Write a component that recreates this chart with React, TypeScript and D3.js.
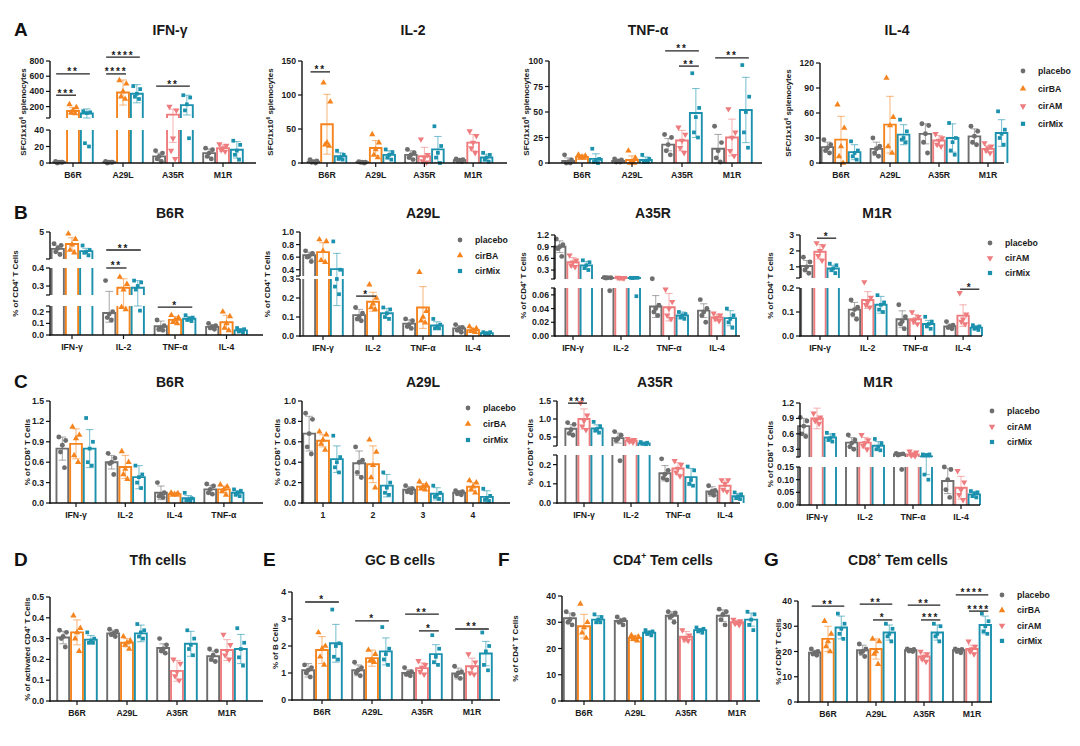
import React from "react";
import * as d3 from "d3";

// ---------------- categories ----------------
const antigens = ["B6R", "A29L", "A35R", "M1R"];
const cytokines = ["IFN-γ", "IL-2", "TNF-α", "IL-4"];
const cytokinesC1 = ["IFN-γ", "IL-2", "IL-4", "TNF-α"];
const peptidePools = ["1", "2", "3", "4"];
const groupsBA = ["placebo", "cirBA", "cirMix"];
const groupsAM = ["placebo", "cirAM", "cirMix"];
const groupsAll = ["placebo", "cirBA", "cirAM", "cirMix"];
const antigenSeries = [groupsBA, groupsBA, groupsAM, groupsAM];

// ---------------- A: ELISpot (SFC / 1x10^6 splenocytes) ----------------
const aIfnMean = [[1, 142, 110], [1, 385, 370], [8, 95, 220], [12, 18, 16]];
const aIfnSd = [[1, 45, 60], [1, 165, 120], [4, 70, 130], [5, 4, 10]];
const aIfnPts = [
  [[2, 1, 1, 0, 1], [230, 190, 150, 120, 110], [140, 125, 115, 24, 20]],
  [[2, 1, 1, 0, 1], [545, 500, 400, 330, 300], [470, 430, 370, 330, 300]],
  [[15, 12, 8, 5, 2], [200, 150, 30, 15, 5], [350, 320, 230, 150, 30]],
  [[18, 16, 12, 8, 5], [23, 21, 18, 16, 14], [27, 22, 15, 10, 4]],
];
const aIfnSig = [[0, 0, 1, "***", 350], [0, 0, 2, "**", 630], [1, 0, 1, "****", 630], [1, 0, 2, "****", 852], [2, 0, 2, "**", 470]];

const aIl2Mean = [[2, 57, 10], [1, 22, 12], [12, 10, 20], [4, 30, 8]];
const aIl2Sd = [[2, 44, 5], [1, 11, 6], [6, 13, 19], [2, 12, 5]];
const aIl2Pts = [
  [[5, 3, 2, 1, 0], [118, 90, 30, 27, 25], [18, 12, 8, 6, 5]],
  [[2, 1, 1, 1, 0], [42, 30, 20, 12, 8], [20, 16, 12, 8, 5]],
  [[20, 15, 12, 8, 5], [35, 12, 8, 3, 1], [54, 25, 15, 8, 0]],
  [[6, 5, 4, 3, 2], [47, 40, 30, 22, 15], [15, 12, 8, 5, 2]],
];
const aIl2Sig = [[0, 0, 1, "**", 134]];

const aTnfMean = [[2, 6, 4], [2, 3, 3], [18, 22, 49], [14, 25, 52]];
const aTnfSd = [[3, 2, 5], [1, 4, 3], [6, 10, 24], [14, 18, 32]];
const aTnfPts = [
  [[8, 3, 1, 0, 0], [8, 7, 6, 5, 5], [14, 4, 2, 1, 0]],
  [[4, 3, 2, 1, 1], [12, 5, 1, 0, 0], [8, 4, 2, 1, 1]],
  [[28, 25, 18, 12, 8], [35, 28, 22, 15, 10], [88, 54, 45, 30, 25]],
  [[36, 20, 12, 5, 1], [53, 30, 25, 12, 7], [96, 65, 50, 30, 15]],
];
const aTnfSig = [[2, 0, 2, "**", 110], [2, 1, 2, "**", 95], [3, 0, 2, "**", 103]];

const aIl4Mean = [[19, 28, 13], [17, 46, 34], [35, 27, 30], [32, 17, 36]];
const aIl4Sd = [[6, 28, 9], [8, 34, 12], [12, 6, 17], [9, 4, 16]];
const aIl4Pts = [
  [[28, 22, 18, 15, 12], [70, 42, 20, 8, 0], [26, 15, 12, 8, 4]],
  [[30, 20, 17, 12, 8], [102, 55, 45, 20, 12], [52, 38, 30, 28, 25]],
  [[47, 45, 35, 25, 12], [35, 30, 27, 22, 20], [48, 30, 25, 15, 10]],
  [[44, 38, 32, 25, 22], [24, 20, 18, 15, 12], [62, 40, 35, 30, 22]],
];

// ---------------- B: % of CD4+ T cells ----------------
const b1Mean = [[4.06, 4.33, 3.94], [0.19, 0.29, 0.29], [0.075, 0.13, 0.14], [0.07, 0.11, 0.04]];
const b1Sd = [[0.2, 0.35, 0.15], [0.08, 0.05, 0.04], [0.045, 0.03, 0.02], [0.02, 0.06, 0.015]];
const b1Pts = [
  [[4.35, 4.25, 4.1, 3.9, 3.75], [4.9, 4.6, 4.3, 4.0, 3.85], [4.25, 4.0, 3.9, 3.85, 3.7]],
  [[0.33, 0.2, 0.18, 0.15, 0.13], [0.35, 0.31, 0.28, 0.24, 0.22], [0.33, 0.32, 0.3, 0.28, 0.21]],
  [[0.13, 0.08, 0.06, 0.05, 0.04], [0.17, 0.15, 0.13, 0.11, 0.1], [0.17, 0.15, 0.14, 0.13, 0.12]],
  [[0.1, 0.08, 0.07, 0.06, 0.05], [0.2, 0.16, 0.1, 0.06, 0.04], [0.06, 0.05, 0.04, 0.03, 0.02]],
];
const b1Sig = [[1, 0, 1, "**", 0.405], [1, 0, 2, "**", 4.0], [2, 0, 2, "*", 0.24]];

const b2Mean = [[0.63, 0.68, 0.41], [0.11, 0.18, 0.12], [0.065, 0.15, 0.055], [0.04, 0.03, 0.015]];
const b2Sd = [[0.05, 0.15, 0.25], [0.03, 0.05, 0.025], [0.02, 0.11, 0.02], [0.015, 0.01, 0.005]];
const b2Pts = [
  [[0.7, 0.66, 0.62, 0.6, 0.53], [0.88, 0.85, 0.7, 0.55, 0.52], [0.85, 0.4, 0.3, 0.26, 0.22]],
  [[0.15, 0.12, 0.1, 0.09, 0.08], [0.27, 0.2, 0.17, 0.15, 0.14], [0.15, 0.14, 0.12, 0.1, 0.09]],
  [[0.09, 0.08, 0.06, 0.05, 0.04], [0.36, 0.13, 0.1, 0.08, 0.07], [0.09, 0.06, 0.05, 0.04, 0.04]],
  [[0.06, 0.045, 0.04, 0.03, 0.02], [0.05, 0.04, 0.03, 0.025, 0.02], [0.02, 0.02, 0.015, 0.01, 0.01]],
];
const b2Sig = [[1, 0, 1, "*", 0.21]];

const b3Mean = [[0.9, 0.5, 0.42], [0.1, 0.1, 0.1], [0.043, 0.042, 0.03], [0.037, 0.027, 0.026]];
const b3Sd = [[0.15, 0.12, 0.1], [0.015, 0.005, 0.01], [0.016, 0.02, 0.005], [0.01, 0.005, 0.011]];
const b3Pts = [
  [[1.1, 0.95, 0.9, 0.85, 0.65], [0.68, 0.55, 0.5, 0.42, 0.38], [0.55, 0.5, 0.42, 0.35, 0.3]],
  [[0.11, 0.1, 0.1, 0.095, 0.066], [0.11, 0.1, 0.1, 0.1, 0.095], [0.1, 0.1, 0.1, 0.095, 0.058]],
  [[0.075, 0.045, 0.04, 0.035, 0.03], [0.068, 0.05, 0.04, 0.03, 0.025], [0.035, 0.032, 0.03, 0.027, 0.025]],
  [[0.053, 0.04, 0.035, 0.03, 0.02], [0.033, 0.03, 0.027, 0.025, 0.022], [0.04, 0.03, 0.025, 0.02, 0.012]],
];

const b4Mean = [[1.05, 1.95, 0.9], [0.11, 0.15, 0.13], [0.07, 0.07, 0.05], [0.04, 0.085, 0.035]];
const b4Sd = [[0.35, 0.45, 0.2], [0.03, 0.035, 0.035], [0.035, 0.02, 0.015], [0.01, 0.045, 0.008]];
const b4Pts = [
  [[1.6, 1.3, 1.0, 0.8, 0.6], [2.5, 2.3, 2.0, 1.7, 1.4], [1.2, 1.1, 0.9, 0.8, 0.6]],
  [[0.15, 0.12, 0.11, 0.09, 0.07], [0.26, 0.16, 0.14, 0.13, 0.12], [0.17, 0.14, 0.13, 0.11, 0.1]],
  [[0.13, 0.08, 0.06, 0.05, 0.03], [0.1, 0.08, 0.07, 0.06, 0.05], [0.08, 0.06, 0.05, 0.04, 0.03]],
  [[0.06, 0.045, 0.04, 0.035, 0.03], [0.18, 0.09, 0.07, 0.06, 0.05], [0.045, 0.04, 0.035, 0.03, 0.025]],
];
const b4Sig = [[0, 1, 2, "*", 2.8], [3, 1, 2, "*", 0.195]];

// ---------------- C: % of CD8+ T cells ----------------
const c1Mean = [[0.8, 0.87, 0.8], [0.6, 0.53, 0.38], [0.15, 0.13, 0.07], [0.2, 0.2, 0.15]];
const c1Sd = [[0.17, 0.22, 0.28], [0.1, 0.17, 0.17], [0.1, 0.01, 0.04], [0.06, 0.05, 0.035]];
const c1Pts = [
  [[0.97, 0.92, 0.85, 0.75, 0.52], [1.12, 1.0, 0.95, 0.7, 0.6], [1.25, 0.9, 0.8, 0.6, 0.55]],
  [[0.73, 0.66, 0.6, 0.58, 0.42], [0.76, 0.6, 0.5, 0.42, 0.35], [0.55, 0.42, 0.38, 0.3, 0.22]],
  [[0.3, 0.15, 0.12, 0.1, 0.08], [0.15, 0.14, 0.13, 0.12, 0.12], [0.15, 0.07, 0.05, 0.04, 0.03]],
  [[0.28, 0.25, 0.2, 0.15, 0.13], [0.27, 0.24, 0.2, 0.17, 0.12], [0.2, 0.18, 0.15, 0.12, 0.1]],
];

const c2Mean = [[0.68, 0.61, 0.43], [0.39, 0.38, 0.17], [0.13, 0.16, 0.09], [0.1, 0.16, 0.06]];
const c2Sd = [[0.17, 0.06, 0.13], [0.12, 0.18, 0.11], [0.03, 0.03, 0.06], [0.02, 0.04, 0.06]];
const c2Pts = [
  [[0.88, 0.82, 0.68, 0.55, 0.48], [0.7, 0.67, 0.62, 0.58, 0.52], [0.66, 0.45, 0.4, 0.35, 0.3]],
  [[0.55, 0.42, 0.4, 0.3, 0.25], [0.62, 0.5, 0.37, 0.25, 0.15], [0.3, 0.2, 0.15, 0.1, 0.08]],
  [[0.17, 0.14, 0.13, 0.11, 0.1], [0.21, 0.18, 0.16, 0.14, 0.13], [0.17, 0.1, 0.08, 0.06, 0.04]],
  [[0.12, 0.11, 0.1, 0.09, 0.08], [0.22, 0.2, 0.16, 0.13, 0.1], [0.14, 0.07, 0.05, 0.03, 0.02]],
];

const c3Mean = [[0.73, 1.0, 0.74], [0.47, 0.4, 0.32], [0.155, 0.18, 0.135], [0.06, 0.09, 0.035]];
const c3Sd = [[0.12, 0.28, 0.1], [0.14, 0.04, 0.02], [0.04, 0.03, 0.045], [0.025, 0.025, 0.015]];
const c3Pts = [
  [[0.9, 0.85, 0.7, 0.6, 0.55], [1.45, 1.1, 0.95, 0.8, 0.7], [0.92, 0.8, 0.72, 0.68, 0.62]],
  [[0.65, 0.55, 0.45, 0.4, 0.22], [0.45, 0.42, 0.4, 0.38, 0.35], [0.36, 0.34, 0.32, 0.31, 0.3]],
  [[0.23, 0.17, 0.15, 0.13, 0.12], [0.22, 0.2, 0.18, 0.16, 0.14], [0.19, 0.17, 0.12, 0.1, 0.09]],
  [[0.09, 0.065, 0.06, 0.05, 0.04], [0.12, 0.12, 0.1, 0.07, 0.06], [0.055, 0.045, 0.035, 0.025, 0.02]],
];
const c3Sig = [[0, 0, 1, "***", 1.44]];

const c4Mean = [[0.75, 0.9, 0.53], [0.43, 0.43, 0.37], [0.2, 0.2, 0.16], [0.095, 0.068, 0.042]];
const c4Sd = [[0.15, 0.2, 0.07], [0.1, 0.1, 0.08], [0.02, 0.04, 0.04], [0.05, 0.045, 0.012]];
const c4Pts = [
  [[0.92, 0.85, 0.75, 0.6, 0.55], [1.0, 0.92, 0.88, 0.85, 0.8], [0.62, 0.58, 0.52, 0.48, 0.45]],
  [[0.58, 0.48, 0.42, 0.35, 0.3], [0.58, 0.48, 0.42, 0.37, 0.3], [0.5, 0.42, 0.35, 0.3, 0.28]],
  [[0.22, 0.21, 0.2, 0.19, 0.14], [0.26, 0.24, 0.2, 0.18, 0.17], [0.2, 0.2, 0.19, 0.12, 0.1]],
  [[0.15, 0.14, 0.1, 0.06, 0.03], [0.135, 0.09, 0.06, 0.04, 0.02], [0.055, 0.05, 0.045, 0.035, 0.03]],
];

// ---------------- D-G ----------------
const dMean = [[0.305, 0.33, 0.295], [0.325, 0.28, 0.325], [0.255, 0.145, 0.275], [0.215, 0.245, 0.25]];
const dSd = [[0.03, 0.06, 0.02], [0.015, 0.02, 0.04], [0.02, 0.05, 0.06], [0.025, 0.05, 0.07]];
const dPts = [
  [[0.34, 0.33, 0.31, 0.3, 0.26], [0.41, 0.35, 0.33, 0.3, 0.24], [0.33, 0.3, 0.29, 0.28, 0.28]],
  [[0.345, 0.335, 0.325, 0.32, 0.31], [0.31, 0.29, 0.28, 0.27, 0.25], [0.37, 0.34, 0.33, 0.31, 0.3]],
  [[0.3, 0.27, 0.25, 0.24, 0.23], [0.2, 0.18, 0.14, 0.12, 0.1], [0.34, 0.3, 0.27, 0.25, 0.22]],
  [[0.25, 0.24, 0.22, 0.2, 0.19], [0.32, 0.27, 0.24, 0.22, 0.2], [0.35, 0.28, 0.25, 0.21, 0.17]],
];

const eMean = [[1.1, 1.85, 2.1], [1.1, 1.55, 1.8], [1.0, 1.18, 1.7], [0.98, 1.25, 1.72]];
const eSd = [[0.25, 0.5, 0.7], [0.2, 0.3, 0.5], [0.12, 0.2, 0.35], [0.2, 0.3, 0.45]];
const ePts = [
  [[1.3, 1.2, 1.1, 1.0, 0.85], [2.5, 2.0, 1.9, 1.6, 1.3], [3.35, 2.1, 2.0, 1.6, 1.5]],
  [[1.4, 1.2, 1.1, 1.0, 0.9], [1.85, 1.7, 1.5, 1.45, 1.4], [2.7, 1.9, 1.7, 1.5, 1.3]],
  [[1.2, 1.05, 1.0, 0.95, 0.9], [1.45, 1.3, 1.2, 1.05, 0.95], [2.4, 1.9, 1.6, 1.4, 1.3]],
  [[1.25, 1.05, 1.0, 0.9, 0.8], [1.7, 1.4, 1.2, 1.0, 0.95], [2.5, 2.0, 1.8, 1.3, 1.1]],
];
const eSig = [[0, 0, 2, "*", 3.63], [1, 0, 2, "*", 2.93], [2, 0, 2, "**", 3.18], [2, 1, 2, "*", 2.56], [3, 0, 2, "**", 2.63]];

const fMean = [[31.5, 28.5, 31], [30.5, 24, 26], [32.5, 24.5, 27], [32.5, 30, 31]];
const fSd = [[2, 4.5, 1.5], [1, 1, 0.8], [1.5, 2, 0.6], [2.2, 0.8, 2.5]];
const fPts = [
  [[34, 33, 31, 30, 29], [37, 30, 28, 26, 24], [33, 32, 31, 30, 30]],
  [[32, 31, 30.5, 30, 29], [25, 24.5, 24, 23.5, 23], [27, 26.5, 26, 25.5, 25]],
  [[34, 33.5, 32.5, 32, 30], [27, 25, 24, 23.5, 23], [28, 27.5, 27, 26.5, 26]],
  [[35, 34, 33, 31, 29], [31, 30.5, 30, 29.5, 29], [34, 33, 31, 29, 27]],
];

const gMean = [[19.5, 25, 29.5], [20.5, 21, 27.5], [20.5, 18, 27.5], [20.5, 21, 30.5]];
const gSd = [[1, 5, 4.5], [2, 4, 3], [0.5, 1.5, 3], [0.5, 1.5, 3.5]];
const gPts = [
  [[21, 20, 19.5, 19, 18.5], [32, 27, 24, 22, 20], [35, 31, 29, 27, 25]],
  [[23, 21, 20, 19.5, 18], [25, 24, 20, 19, 15], [31, 29, 27, 26, 24]],
  [[21, 20.8, 20.5, 20.2, 20], [20, 19, 18, 17, 16], [31, 30, 27, 26, 24]],
  [[21, 20.8, 20.5, 20, 19.5], [24, 22, 21, 20, 19], [35, 32, 30, 28, 27]],
];
const gSig = [[0, 0, 2, "**", 38], [1, 0, 2, "**", 38.8], [1, 1, 2, "*", 32.5], [2, 0, 2, "**", 38.4], [2, 1, 2, "***", 32.5], [3, 0, 2, "****", 42.4], [3, 1, 2, "****", 36]];

// ---------------- styles ----------------
const FONT = "'Liberation Sans', Arial, Helvetica, sans-serif";
const seriesColor: Record<string, string> = {
  placebo: "#6e6e6e",
  cirBA: "#f5841f",
  cirAM: "#ee7b7d",
  cirMix: "#1b91ad",
};
const jitter = [-0.3, 0.28, 0.0, -0.16, 0.18];

type Part = [string, number];
type Seg = { domain: [number, number]; range: [number, number]; ticks: number[]; fmt: string };
type Cfg = {
  title: Part[]; titleX: number; titleY: number;
  letter?: string; letterX?: number;
  ylabel: Part[]; ylabelX: number;
  left: number; right: number; c0: number; step: number;
  segs: Seg[];
  groups: string[]; series: string[][];
  mean: number[][]; sd: number[][]; pts: number[][][];
  sig?: any[];
  legend?: { keys: string[]; x: number; y: number; dy: number };
};

function symbolPath(key: string, size: number) {
  const type = key === "placebo" ? d3.symbolCircle : key === "cirMix" ? d3.symbolSquare : d3.symbolTriangle;
  return d3.symbol().type(type).size(size)() as string;
}

function Marker({ k, x, y, size }: { k: string; x: number; y: number; size: number }) {
  const rot = k === "cirAM" ? 180 : 0;
  return <path d={symbolPath(k, size)} transform={`translate(${x},${y}) rotate(${rot})`} fill={seriesColor[k]} />;
}

function Rich({ parts, size }: { parts: Part[]; size: number }) {
  let prevSup = false;
  return (
    <>
      {parts.map(([t, s], i) => {
        let dy = 0;
        if (s && !prevSup) dy = -size * 0.42;
        if (!s && prevSup) dy = size * 0.42;
        prevSup = !!s;
        return (
          <tspan key={i} dy={dy} fontSize={s ? size * 0.62 : size}>
            {t}
          </tspan>
        );
      })}
    </>
  );
}

const SFC: Part[] = [["SFC/1x10", 0], ["6", 1], [" splenocytes", 0]];
const CD4: Part[] = [["% of CD4", 0], ["+", 1], [" T Cells", 0]];
const CD8: Part[] = [["% of CD8", 0], ["+", 1], [" T Cells", 0]];
const P = (s: string): Part[] => [[s, 0]];

function Panel({ p }: { p: Cfg }) {
  const segs = p.segs.map((s) => ({ ...s, sc: d3.scaleLinear().domain(s.domain).range(s.range) }));
  const broken = segs.length > 1;
  const y = (v: number): number => {
    for (let i = 0; i < segs.length; i++) {
      const s = segs[i];
      if (v <= s.domain[1] || i === segs.length - 1) {
        if (v >= s.domain[0] || i === 0) return s.sc(v);
        const prev = segs[i - 1];
        const t = (v - prev.domain[1]) / (s.domain[0] - prev.domain[1]);
        return prev.range[1] + t * (s.range[0] - prev.range[1]);
      }
    }
    return 0;
  };
  const gx = d3.scalePoint<string>().domain(p.groups).range([p.c0, p.c0 + p.step * (p.groups.length - 1)]);
  const k = p.step / 50;
  const inner = d3.scaleBand<number>().domain([0, 1, 2]).range([-19.8 * k, 19.8 * k]).paddingInner(0.14);
  const bw = inner.bandwidth();
  const base = segs[0].range[0];
  const yTop = segs[segs.length - 1].range[1];
  const barX = (g: number, b: number) => (gx(p.groups[g]) as number) + (inner(b) as number);

  const bars: JSX.Element[] = [];
  const errs: JSX.Element[] = [];
  const dots: JSX.Element[] = [];
  p.mean.forEach((row, g) => {
    row.forEach((m, b) => {
      const key = p.series[g][b];
      const col = seriesColor[key];
      const x0 = barX(g, b);
      const x1 = x0 + bw;
      const cx = x0 + bw / 2;
      segs.forEach((s, si) => {
        const lo = si === 0 ? 0 : s.domain[0];
        if (m <= lo) return;
        const hi = Math.min(m, s.domain[1]);
        const yb = si === 0 ? base : s.sc(lo);
        const yt = s.sc(hi);
        const closed = m <= s.domain[1];
        const d = closed
          ? `M${x0},${yb}V${yt}H${x1}V${yb}`
          : `M${x0},${yb}V${yt}M${x1},${yt}V${yb}`;
        bars.push(<rect key={`f${g}${b}${si}`} x={x0} y={yt} width={bw} height={Math.max(0, yb - yt)} fill="#fff" />);
        bars.push(<path key={`b${g}${b}${si}`} d={d} fill="none" stroke={col} strokeWidth={1.9} />);
      });
      const sd = p.sd[g][b];
      const ya = y(Math.max(0, m - sd));
      const yz = y(m + sd);
      const cw = bw * 0.32;
      errs.push(
        <g key={`e${g}${b}`} stroke={col} strokeOpacity={0.55} strokeWidth={1.1}>
          <line x1={cx} x2={cx} y1={ya} y2={yz} />
          <line x1={cx - cw} x2={cx + cw} y1={yz} y2={yz} />
          <line x1={cx - cw} x2={cx + cw} y1={ya} y2={ya} />
        </g>
      );
      p.pts[g][b].forEach((v, i) => {
        dots.push(<Marker key={`p${g}${b}${i}`} k={key} x={cx + jitter[i % jitter.length] * bw} y={y(v)} size={key === "placebo" ? 19 : key === "cirMix" ? 14 : 17} />);
      });
    });
  });

  const axis: JSX.Element[] = [];
  segs.forEach((s, si) => {
    axis.push(<line key={`al${si}`} x1={p.left} x2={p.left} y1={s.range[0] + (si === 0 ? 0.7 : 0)} y2={s.range[1]} stroke="#111" strokeWidth={1.4} />);
    const f = d3.format(s.fmt);
    const tickVals = broken ? Array.from(new Set([...s.ticks, ...(si === 0 ? [s.domain[1]] : s.domain)])) : s.ticks;
    tickVals.forEach((t, ti) => {
      const ty = s.sc(t);
      axis.push(<line key={`at${si}-${ti}`} x1={p.left - 4} x2={p.left} y1={ty} y2={ty} stroke="#111" strokeWidth={1.2} />);
      if (s.ticks.includes(t)) {
        axis.push(
          <text key={`atl${si}-${ti}`} x={p.left - 6} y={ty} dy="0.35em" textAnchor="end" fontSize={8.7} fontWeight="bold" fill="#1a1a1a">
            {f(t)}
          </text>
        );
      }
    });
  });
  axis.push(<line key="xa" x1={p.left - 0.7} x2={p.right} y1={base} y2={base} stroke="#111" strokeWidth={1.4} />);
  p.groups.forEach((gname, g) => {
    const cx = gx(gname) as number;
    axis.push(<line key={`xt${g}`} x1={cx} x2={cx} y1={base} y2={base + 4} stroke="#111" strokeWidth={1.2} />);
    axis.push(
      <text key={`xl${g}`} x={cx} y={base + 15} textAnchor="middle" fontSize={8.7} fontWeight="bold" fill="#1a1a1a">
        {gname}
      </text>
    );
  });

  const sigs = (p.sig || []).map((s, i) => {
    const [g, b1, b2, label, v] = s;
    const xa = barX(g, b1) + bw / 2 - 3;
    const xb = barX(g, b2) + bw / 2 + 3;
    const ly = y(v);
    return (
      <g key={`s${i}`}>
        <line x1={xa} x2={xb} y1={ly} y2={ly} stroke="#222" strokeWidth={1.3} />
        <text x={(xa + xb) / 2} y={ly + 1.5} textAnchor="middle" fontSize={10} fontWeight="bold" letterSpacing={1.8} fill="#1a1a1a">
          {label}
        </text>
      </g>
    );
  });

  const yc = (base + yTop) / 2;
  return (
    <g>
      {p.letter && (
        <text x={p.letterX} y={p.titleY + 1} fontSize={19} fontWeight="bold" fill="#111">
          {p.letter}
        </text>
      )}
      <text x={p.titleX} y={p.titleY} textAnchor="middle" fontSize={14} fontWeight="bold" fill="#1a1a1a">
        <Rich parts={p.title} size={14} />
      </text>
      <text transform={`translate(${p.ylabelX},${yc}) rotate(-90)`} textAnchor="middle" fontSize={8} fontWeight="bold" fill="#1a1a1a">
        <Rich parts={p.ylabel} size={8} />
      </text>
      {bars}
      {errs}
      {dots}
      {axis}
      {sigs}
      {p.legend &&
        p.legend.keys.map((key, i) => (
          <g key={`lg${i}`}>
            <Marker k={key} x={p.legend!.x} y={p.legend!.y + i * p.legend!.dy} size={18} />
            <text x={p.legend!.x + 15} y={p.legend!.y + i * p.legend!.dy} dy="0.35em" fontSize={8.7} fontWeight="bold" fill="#1a1a1a">
              {key}
            </text>
          </g>
        ))}
    </g>
  );
}

const rep = (s: string[]) => [s, s, s, s];

const panels: Cfg[] = [
  // Row A
  {
    title: P("IFN-γ"), titleX: 170, titleY: 35, letter: "A", letterX: 14, ylabel: SFC, ylabelX: 26,
    left: 50, right: 256, c0: 73, step: 50,
    segs: [
      { domain: [0, 40], range: [163, 130], ticks: [0, 20, 40], fmt: "d" },
      { domain: [50, 800], range: [118, 61], ticks: [200, 400, 600, 800], fmt: "d" },
    ],
    groups: antigens, series: antigenSeries, mean: aIfnMean, sd: aIfnSd, pts: aIfnPts, sig: aIfnSig,
  },
  {
    title: P("IL-2"), titleX: 413, titleY: 35, ylabel: SFC, ylabelX: 273,
    left: 302, right: 507, c0: 327, step: 48.7,
    segs: [{ domain: [0, 150], range: [163, 61], ticks: [0, 50, 100, 150], fmt: "d" }],
    groups: antigens, series: antigenSeries, mean: aIl2Mean, sd: aIl2Sd, pts: aIl2Pts, sig: aIl2Sig,
  },
  {
    title: P("TNF-α"), titleX: 648, titleY: 35, ylabel: SFC, ylabelX: 529,
    left: 549, right: 762, c0: 582, step: 50,
    segs: [{ domain: [0, 100], range: [163, 61], ticks: [0, 25, 50, 75, 100], fmt: "d" }],
    groups: antigens, series: antigenSeries, mean: aTnfMean, sd: aTnfSd, pts: aTnfPts, sig: aTnfSig,
  },
  {
    title: P("IL-4"), titleX: 897, titleY: 35, ylabel: SFC, ylabelX: 791,
    left: 820, right: 1004, c0: 841, step: 49,
    segs: [{ domain: [0, 120], range: [163, 63], ticks: [0, 30, 60, 90, 120], fmt: "d" }],
    groups: antigens, series: antigenSeries, mean: aIl4Mean, sd: aIl4Sd, pts: aIl4Pts,
    legend: { keys: groupsAll, x: 1023, y: 71, dy: 17.6 },
  },
  // Row B
  {
    title: P("B6R"), titleX: 170, titleY: 218, letter: "B", letterX: 14, ylabel: CD4, ylabelX: 18,
    left: 50, right: 263, c0: 72, step: 51.5,
    segs: [
      { domain: [0, 0.25], range: [335, 306], ticks: [0, 0.1, 0.2], fmt: ".1f" },
      { domain: [0.25, 0.4], range: [295, 268], ticks: [0.3, 0.4], fmt: ".1f" },
      { domain: [3.5, 5], range: [259, 232], ticks: [5], fmt: "d" },
    ],
    groups: cytokines, series: rep(groupsBA), mean: b1Mean, sd: b1Sd, pts: b1Pts, sig: b1Sig,
  },
  {
    title: P("A29L"), titleX: 423, titleY: 218, ylabel: CD4, ylabelX: 270,
    left: 300, right: 510, c0: 323, step: 50,
    segs: [
      { domain: [0, 0.3], range: [336, 279], ticks: [0, 0.1, 0.2, 0.3], fmt: ".1f" },
      { domain: [0.3, 1.0], range: [276, 232], ticks: [0.4, 0.6, 0.8, 1.0], fmt: ".1f" },
    ],
    groups: cytokines, series: rep(groupsBA), mean: b2Mean, sd: b2Sd, pts: b2Pts, sig: b2Sig,
    legend: { keys: groupsBA, x: 460, y: 240, dy: 15.5 },
  },
  {
    title: P("A35R"), titleX: 653, titleY: 218, ylabel: CD4, ylabelX: 526,
    left: 555, right: 740, c0: 573, step: 48,
    segs: [
      { domain: [0, 0.07], range: [336, 288], ticks: [0, 0.02, 0.04, 0.06], fmt: ".2f" },
      { domain: [0.07, 1.2], range: [279, 235], ticks: [0.3, 0.6, 0.9, 1.2], fmt: ".1f" },
    ],
    groups: cytokines, series: rep(groupsAM), mean: b3Mean, sd: b3Sd, pts: b3Pts,
  },
  {
    title: P("M1R"), titleX: 877, titleY: 218, ylabel: CD4, ylabelX: 773,
    left: 800, right: 982, c0: 820, step: 47.7,
    segs: [
      { domain: [0, 0.2], range: [336, 288], ticks: [0, 0.1, 0.2], fmt: ".1f" },
      { domain: [0.3, 3], range: [278, 235], ticks: [1, 2, 3], fmt: "d" },
    ],
    groups: cytokines, series: rep(groupsAM), mean: b4Mean, sd: b4Sd, pts: b4Pts, sig: b4Sig,
    legend: { keys: groupsAM, x: 990, y: 243, dy: 15 },
  },
  // Row C
  {
    title: P("B6R"), titleX: 170, titleY: 387, letter: "C", letterX: 14, ylabel: CD8, ylabelX: 30,
    left: 50, right: 263, c0: 76, step: 49.3,
    segs: [{ domain: [0, 1.5], range: [503, 401], ticks: [0, 0.3, 0.6, 0.9, 1.2, 1.5], fmt: ".1f" }],
    groups: cytokinesC1, series: rep(groupsBA), mean: c1Mean, sd: c1Sd, pts: c1Pts,
  },
  {
    title: P("A29L"), titleX: 423, titleY: 387, ylabel: CD8, ylabelX: 280,
    left: 302, right: 510, c0: 323, step: 50,
    segs: [{ domain: [0, 1.0], range: [503, 401], ticks: [0, 0.2, 0.4, 0.6, 0.8, 1.0], fmt: ".1f" }],
    groups: peptidePools, series: rep(groupsBA), mean: c2Mean, sd: c2Sd, pts: c2Pts,
    legend: { keys: groupsBA, x: 468, y: 408, dy: 16 },
  },
  {
    title: P("A35R"), titleX: 655, titleY: 387, ylabel: CD8, ylabelX: 533,
    left: 557, right: 740, c0: 584, step: 47,
    segs: [
      { domain: [0, 0.25], range: [503, 455], ticks: [0, 0.1, 0.2], fmt: ".1f" },
      { domain: [0.25, 1.5], range: [446, 401], ticks: [0.5, 1.0, 1.5], fmt: ".1f" },
    ],
    groups: cytokines, series: rep(groupsAM), mean: c3Mean, sd: c3Sd, pts: c3Pts, sig: c3Sig,
  },
  {
    title: P("M1R"), titleX: 878, titleY: 387, ylabel: CD8, ylabelX: 773,
    left: 800, right: 980, c0: 817, step: 48,
    segs: [
      { domain: [0, 0.15], range: [505, 467], ticks: [0, 0.05, 0.1, 0.15], fmt: ".2f" },
      { domain: [0.15, 1.2], range: [457, 403], ticks: [0.3, 0.6, 0.9, 1.2], fmt: ".1f" },
    ],
    groups: cytokines, series: rep(groupsAM), mean: c4Mean, sd: c4Sd, pts: c4Pts,
    legend: { keys: groupsAM, x: 992, y: 411, dy: 15.5 },
  },
  // Row D-G
  {
    title: P("Tfh cells"), titleX: 158, titleY: 565, letter: "D", letterX: 14,
    ylabel: [["% of activated CD4", 0], ["+", 1], [" T Cells", 0]], ylabelX: 30,
    left: 50, right: 263, c0: 77, step: 50,
    segs: [{ domain: [0, 0.5], range: [701, 597], ticks: [0, 0.1, 0.2, 0.3, 0.4, 0.5], fmt: ".1f" }],
    groups: antigens, series: antigenSeries, mean: dMean, sd: dSd, pts: dPts,
  },
  {
    title: P("GC B cells"), titleX: 400, titleY: 565, letter: "E", letterX: 263,
    ylabel: P("% of B Cells"), ylabelX: 278,
    left: 292, right: 500, c0: 322, step: 50,
    segs: [{ domain: [0, 4], range: [700, 592], ticks: [0, 1, 2, 3, 4], fmt: "d" }],
    groups: antigens, series: antigenSeries, mean: eMean, sd: eSd, pts: ePts, sig: eSig,
  },
  {
    title: [["CD4", 0], ["+", 1], [" Tem cells", 0]], titleX: 663, titleY: 565, letter: "F", letterX: 498,
    ylabel: CD4, ylabelX: 518,
    left: 562, right: 760, c0: 584, step: 51,
    segs: [{ domain: [0, 40], range: [701, 596], ticks: [0, 10, 20, 30, 40], fmt: "d" }],
    groups: antigens, series: antigenSeries, mean: fMean, sd: fSd, pts: fPts,
  },
  {
    title: [["CD8", 0], ["+", 1], [" Tem cells", 0]], titleX: 898, titleY: 565, letter: "G", letterX: 764,
    ylabel: CD8, ylabelX: 781,
    left: 798, right: 992, c0: 828, step: 48,
    segs: [{ domain: [0, 40], range: [702, 601], ticks: [0, 10, 20, 30, 40], fmt: "d" }],
    groups: antigens, series: antigenSeries, mean: gMean, sd: gSd, pts: gPts, sig: gSig,
    legend: { keys: groupsAll, x: 1002, y: 595, dy: 15.3 },
  },
];

export default function App() {
  return (
    <svg
      width={1080}
      height={746}
      viewBox="0 0 1080 746"
      style={{ position: "absolute", left: 0, top: 0, background: "#fff" }}
      fontFamily={FONT}
    >
      <rect width={1080} height={746} fill="#fff" />
      {panels.map((p, i) => (
        <Panel key={i} p={p} />
      ))}
    </svg>
  );
}
